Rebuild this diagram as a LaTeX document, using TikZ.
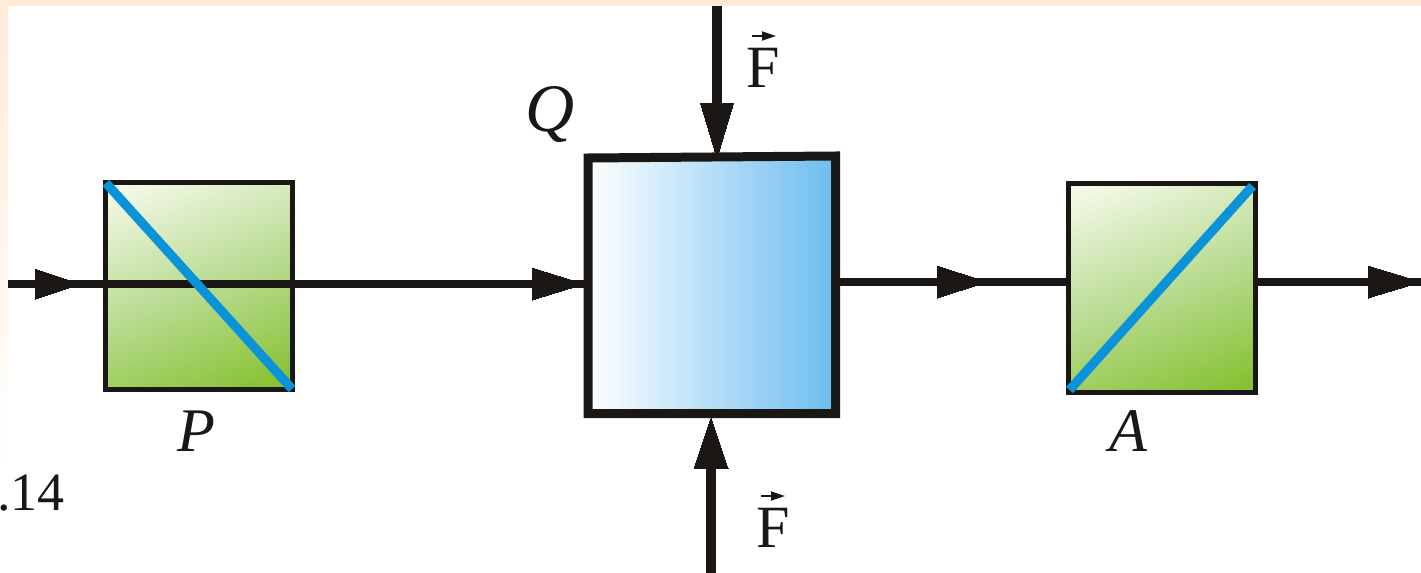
\documentclass[tikz,border=0pt]{standalone}
\usepackage{fontspec}
\setmainfont{Liberation Serif}
\usetikzlibrary{arrows.meta,calc}
\definecolor{peach}{HTML}{FFEBD8}
\definecolor{ink}{HTML}{1A1715}
\definecolor{prism}{HTML}{86C232}
\definecolor{prismmid}{HTML}{BADC94}
\definecolor{prismlight}{HTML}{F4F9E8}
\definecolor{blueline}{HTML}{0A93D8}
\definecolor{cellblue}{HTML}{6CBDEE}
\pgfdeclareverticalshading{prismshade}{100bp}{color(0bp)=(prism); color(20bp)=(prism); color(50bp)=(prismmid); color(80bp)=(prismlight); color(100bp)=(prismlight)}
\pgfdeclarehorizontalshading{cellshade}{100bp}{color(0bp)=(white); color(25bp)=(white); color(75bp)=(cellblue); color(100bp)=(cellblue)}
\tikzset{
  x=0.5pt,y=-0.5pt,
  prismbox/.style={rectangle,draw=ink,line width=2.5pt,inner sep=0pt,minimum width=93.5pt,minimum height=103.5pt,shading=prismshade,shading angle=22},
  cellbox/.style={draw=ink,line width=4.5pt,line join=miter,shading=cellshade},
  beam/.style={draw=ink,line width=4.2pt},
  beamhead/.style={draw=ink,fill=ink,line width=0pt},
  force/.style={draw=ink,line width=4.6pt},
  axisline/.style={draw=blueline,line width=4.6pt},
  lab/.style={inner sep=0pt,text=ink,font=\fontsize{31}{31}\selectfont},
  fvec/.style={draw=ink,line width=0.9pt,-{Triangle[length=7pt,width=4.5pt,fill=ink]}},
}
\begin{document}
\begin{tikzpicture}
\useasboundingbox (0,0) rectangle (1421,573);
\fill[white] (0,0) rectangle (1421,573);
\shade[top color=peach,bottom color=white] (0,0) rectangle (8,470);
\fill[peach] (0,0) rectangle (1421,6);
% boxes
\node[prismbox] (P) at (199,286) {};
\coordinate (Qnw) at (588,158);
\coordinate (Qne) at (835.5,156);
\coordinate (Qse) at (835.5,413.5);
\coordinate (Qsw) at (588,413.5);
\path[cellbox] (Qnw) -- (Qne) -- (Qse) -- (Qsw) -- cycle;
\node[prismbox,minimum height=104.5pt] (A) at (1161.5,288) {};
% coordinates
\coordinate (inL) at (8,284);
\coordinate (base1) at (35,284);
\coordinate (tip1) at (80,284);
\coordinate (base2) at (532,284);
\coordinate (tip2) at (584,284);
\coordinate (base3) at (937,282);
\coordinate (tip3) at (987,282);
\coordinate (base4) at (1368,282);
\coordinate (outR) at (1421,282);
\coordinate (leaveQ) at (838,282);
\coordinate (enterA) at (1066,282);
\coordinate (leaveA) at (1256,282);
\coordinate (ftop) at (717,6);
\coordinate (fbase) at (717,103);
\coordinate (ftip) at (717,158);
\coordinate (fbot) at (711,573);
\coordinate (bbase) at (711,468);
\coordinate (btip) at (711,418);
% beams
\draw[beam] (inL) -- (tip2);
\draw[beam] (leaveQ) -- (enterA);
\draw[beam] (leaveA) -- (outR);
\fill[beamhead] ($(base1)+(0,-15)$) -- (tip1) -- ($(base1)+(0,15)$) -- cycle;
\fill[beamhead] ($(base2)+(0,-16)$) -- (tip2) -- ($(base2)+(0,16)$) -- cycle;
\fill[beamhead] ($(base3)+(0,-16)$) -- (tip3) -- ($(base3)+(0,16)$) -- cycle;
\fill[beamhead] ($(base4)+(0,-16)$) -- (outR) -- ($(base4)+(0,16)$) -- cycle;
% forces
\draw[force] (ftop) -- (fbase);
\fill[beamhead] ($(fbase)+(-16.5,0)$) -- (ftip) -- ($(fbase)+(16.5,0)$) -- cycle;
\draw[force] (fbot) -- (bbase);
\fill[beamhead] ($(bbase)+(-17,0)$) -- (btip) -- ($(bbase)+(17,0)$) -- cycle;
% polarizer axes
\draw[axisline] ($(P.north west)+(3,3)$) -- ($(P.south east)+(-3,-3)$);
\draw[axisline] ($(A.south west)+(4,-5)$) -- ($(A.north east)+(-5,5)$);
% labels
\node[lab] (lP) at (196,431) {\textit{P}};
\node[lab,font=\fontsize{34}{34}\selectfont] (lQ) at (550,114) {\textit{Q}};
\node[lab] (lA) at (1129,431) {\textit{A}};
\node[lab,anchor=base,font=\fontsize{30}{30}\selectfont] (lF1) at (763,87) {F};
\node[lab,anchor=base,font=\fontsize{30}{30}\selectfont] (lF2) at (773,547) {F};
\node[lab,anchor=base west,font=\fontsize{27}{27}\selectfont] (fig) at (-3,510) {.14};
\draw[fvec] ($(lF1.base)+(-11,-51)$) -- ($(lF1.base)+(13,-51)$);
\draw[fvec] ($(lF2.base)+(-12,-51)$) -- ($(lF2.base)+(12,-51)$);
\end{tikzpicture}
\end{document}
